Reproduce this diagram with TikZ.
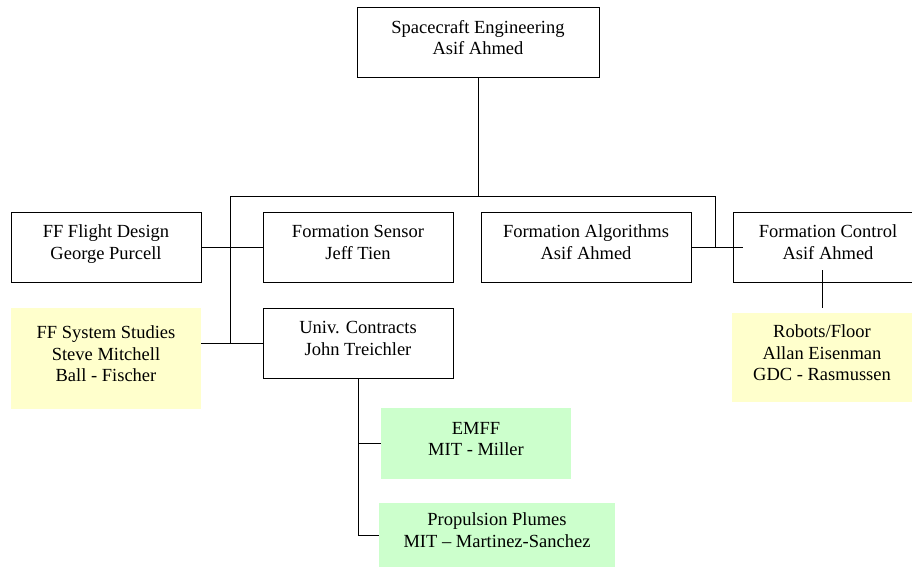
\documentclass[tikz,border=0pt]{standalone}
\usepackage{fontspec}
\setmainfont{Liberation Serif}
\definecolor{studyyellow}{HTML}{FFFFCC}
\definecolor{contractgreen}{HTML}{CCFFCC}
\begin{document}
\begin{tikzpicture}[x=1pt, y=-1pt, line cap=rect, line join=miter]

% --- Global TikZ Styles for Consistency ---
\tikzset{
    unitbox/.style={
        draw=black,
        line width=0.9pt,
        fill=white,
        align=center,
        inner sep=0pt,
        text depth=9.5pt,
        minimum height=70pt,
        font=\fontsize{18.5}{21.5}\selectfont
    },
    studybox/.style={
        unitbox,
        draw=none,
        fill=studyyellow
    },
    contractbox/.style={
        unitbox,
        draw=none,
        fill=contractgreen
    },
    link/.style={
        draw=black,
        line width=0.9pt
    }
}

% --- Page frame ---
\path[fill=white, use as bounding box] (0,0) rectangle (912,567);

% =========================================================================
% --- Boxes ---
% =========================================================================
\node[unitbox, minimum width=242pt] (eng) at (478,42) {Spacecraft Engineering\\Asif Ahmed};

\node[unitbox, minimum width=190pt] (flight) at (106,247) {FF Flight Design\\George Purcell};
\node[unitbox, minimum width=190pt] (sensor) at (358,247) {Formation Sensor\\Jeff Tien};
\node[unitbox, minimum width=210pt] (algo)   at (586,247) {Formation Algorithms\\Asif Ahmed};
\node[unitbox, minimum width=190pt] (ctrl)   at (828,247) {Formation Control\\Asif Ahmed};

\node[unitbox, minimum width=190pt] (univ) at (358,343) {Univ. Contracts\\John Treichler};

\node[studybox, minimum width=190pt, minimum height=101pt] (studies) at (106,358.5)
    {FF System Studies\\Steve Mitchell\\Ball - Fischer};
\node[studybox, minimum width=180pt, minimum height=89pt] (robots) at (822,357.5)
    {Robots/Floor\\Allan Eisenman\\GDC - Rasmussen};

\node[contractbox, minimum width=190pt, minimum height=71pt] (emff) at (476,443.5)
    {EMFF\\MIT - Miller};
\node[contractbox, minimum width=236pt, minimum height=64pt] (plumes) at (497,535)
    {Propulsion Plumes\\MIT -- Martinez-Sanchez};

% =========================================================================
% --- Connectors ---
% =========================================================================
\coordinate (busL) at (230,196);
\coordinate (busR) at (715,196);

\draw[link] (eng.south) -- (eng.south |- busL);   % drop to bus
\draw[link] (busL) -- (busR);                     % main bus

% --- Left branch ---
\draw[link] (busL) -- (busL |- univ.west);
\draw[link] (flight.east) -- (sensor.west);
\draw[link] (studies.east |- univ.west) -- (univ.west);

% --- Right branch ---
\draw[link] (busR) -- (busR |- algo.east);
\draw[link] (algo.east) -- ([xshift=10pt]ctrl.west);
\draw[link] ([yshift=12pt]robots.north |- ctrl.south) -- ([yshift=5pt]robots.north);

% --- University contracts ---
\draw[link] (univ.south) -- (univ.south |- plumes.west);
\draw[link] (univ.south |- emff.west) -- (emff.west);
\draw[link] (univ.south |- plumes.west) -- (plumes.west);

\end{tikzpicture}
\end{document}
